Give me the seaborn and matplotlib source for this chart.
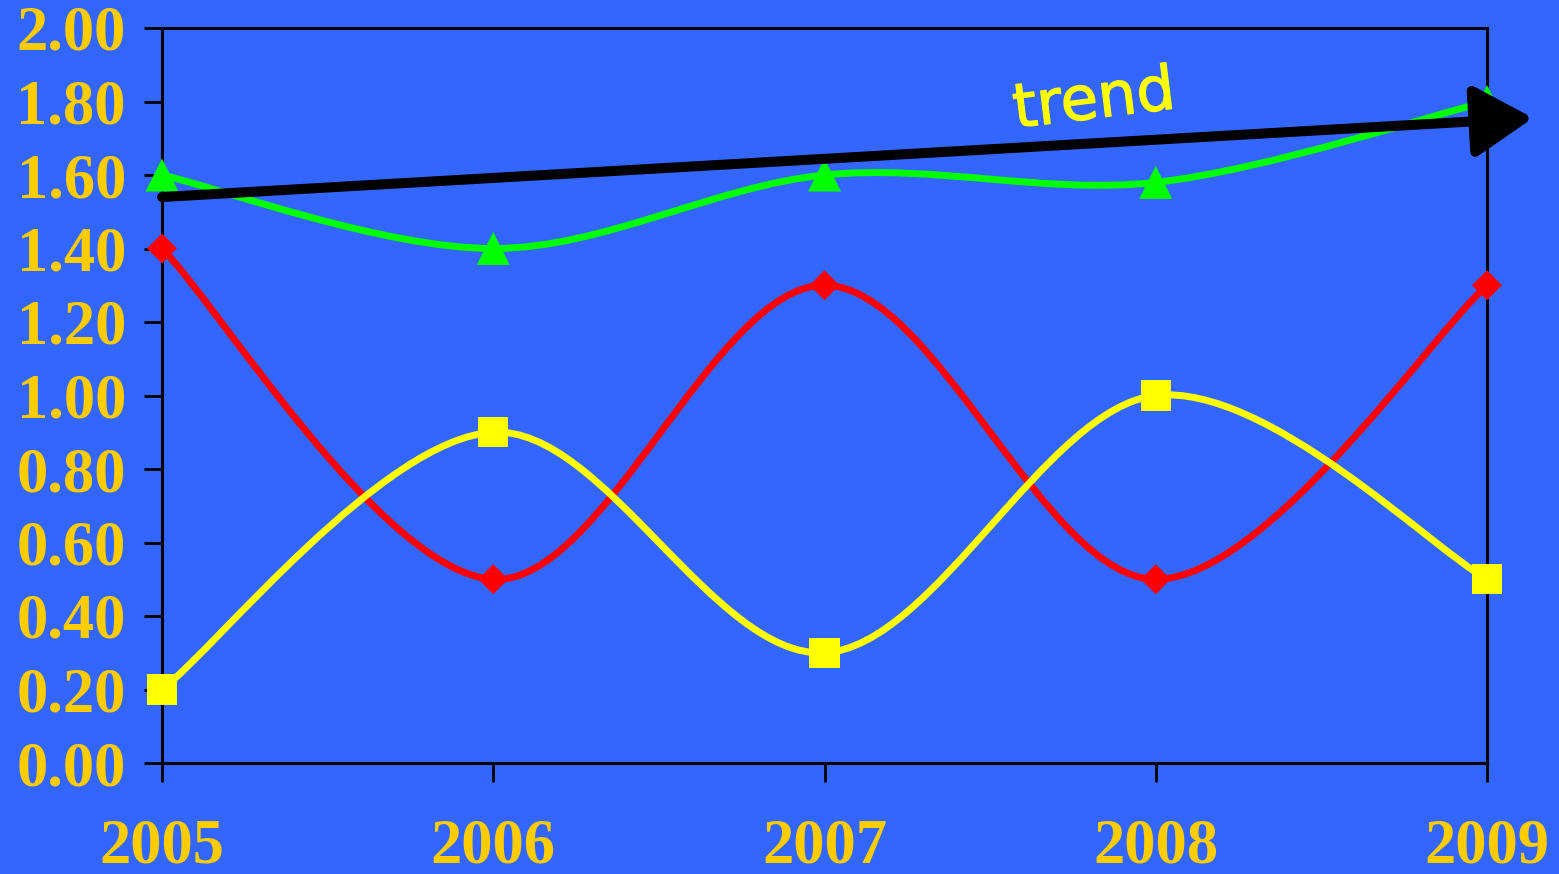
import numpy as np
import pandas as pd
import matplotlib
matplotlib.use("Agg")
import matplotlib.pyplot as plt
import matplotlib.patheffects as pe
from matplotlib.path import Path
from matplotlib.patches import PathPatch, FancyArrowPatch, ArrowStyle
import seaborn as sns

# ---- data -------------------------------------------------------------
years = [2005, 2006, 2007, 2008, 2009]
green_vals = [1.60, 1.40, 1.60, 1.58, 1.80]
red_vals = [1.40, 0.50, 1.30, 0.50, 1.30]
yellow_vals = [0.20, 0.90, 0.30, 1.00, 0.50]
y_ticks = [0.0, 0.2, 0.4, 0.6, 0.8, 1.0, 1.2, 1.4, 1.6, 1.8, 2.0]
x_labels = ["2005", "2006", "2007", "2008", "2009"]
trend_label = "trend"

BG = "#3366FF"
GOLD = "#FFCC00"

sns.set_theme(style="ticks")
plt.rcParams["font.family"] = ["Liberation Serif", "DejaVu Serif"]

fig = plt.figure(figsize=(15.59, 8.74), dpi=100, facecolor=BG)
ax = fig.add_axes([162 / 1559, 1 - 763 / 874, (1487 - 162) / 1559, (763 - 28) / 874])
ax.set_facecolor(BG)


def smooth_path(xs, ys):
    """Bezier path through the points (Catmull-Rom style smoothing)."""
    pts = np.column_stack([xs, ys]).astype(float)
    n = len(pts)
    verts = [pts[0]]
    codes = [Path.MOVETO]
    for i in range(n - 1):
        p0 = pts[i - 1] if i > 0 else pts[i]
        p1 = pts[i]
        p2 = pts[i + 1]
        p3 = pts[i + 2] if i + 2 < n else pts[i + 1]
        c1 = p1 + (p2 - p0) / 6.0
        c2 = p2 - (p3 - p1) / 6.0
        verts += [c1, c2, p2]
        codes += [Path.CURVE4] * 3
    return Path(verts, codes)


series = [
    ("red", red_vals, "#FF0000", "D", 234),
    ("yellow", yellow_vals, "#FFFF00", "s", 467),
    ("green", green_vals, "#00FF00", "^", 566),
]

for z, (name, vals, col, mk, size) in enumerate(series):
    patch = PathPatch(smooth_path(years, vals), facecolor="none", edgecolor=col,
                      lw=5.0, capstyle="round", joinstyle="round",
                      transform=ax.transData, zorder=2 + z, clip_on=False)
    ax.add_patch(patch)

for z, (name, vals, col, mk, size) in enumerate(series):
    df = pd.DataFrame({"year": years, "value": vals})
    sns.scatterplot(data=df, x="year", y="value", marker=mk, s=size, color=col,
                    edgecolor="none", linewidth=0, ax=ax, zorder=6 + z,
                    clip_on=False, legend=False)

ax.set_xlim(years[0], years[-1])
ax.set_ylim(0, 2.0)
ax.set_xticks(years)
ax.set_xticklabels(x_labels)
ax.set_yticks(y_ticks)
ax.set_yticklabels([f"{v:.2f}" for v in y_ticks])
ax.set_xlabel("")
ax.set_ylabel("")
ax.grid(False)

for side in ["left", "right", "top", "bottom"]:
    ax.spines[side].set_visible(True)
    ax.spines[side].set_color("black")
    ax.spines[side].set_linewidth(2.2)

ax.tick_params(axis="y", direction="out", length=13, width=2, color="black",
               labelsize=45, labelcolor=GOLD, pad=13)
ax.tick_params(axis="x", direction="out", length=14, width=2, color="black",
               labelsize=45, labelcolor=GOLD, pad=26)
for lab in ax.get_xticklabels() + ax.get_yticklabels():
    lab.set_fontweight("bold")

# trend arrow across the plot
arrow = FancyArrowPatch((0.0, 0.770), (1.0347, 0.8776), transform=ax.transAxes,
                        arrowstyle=ArrowStyle("-|>", head_length=3.6, head_width=2.2),
                        mutation_scale=10, lw=7.2, color="black",
                        shrinkA=0, shrinkB=0, clip_on=False, zorder=20)
ax.add_patch(arrow)
ax.text(0.7036, 0.9000, trend_label, transform=ax.transAxes, color="#FFFF00",
        fontsize=44, family="DejaVu Sans", rotation=7, ha="center", va="center",
        zorder=21,
        path_effects=[pe.withStroke(linewidth=0.9, foreground="#FFFF00")])

fig.savefig("out.png", dpi=100, facecolor=BG)
